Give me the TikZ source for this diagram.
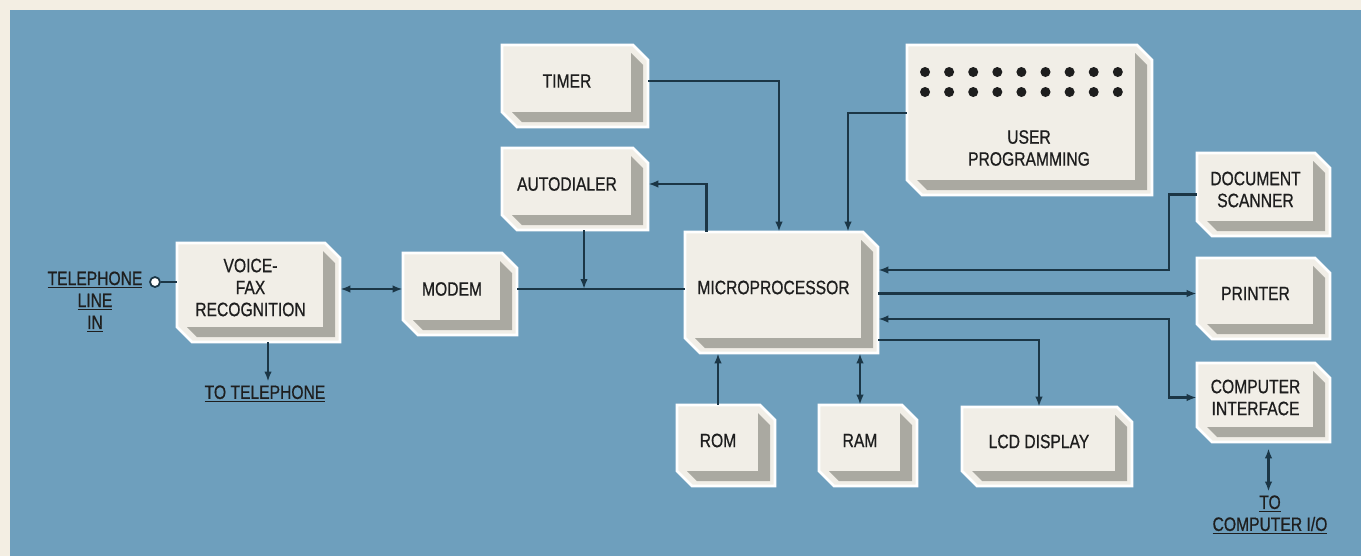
\documentclass[tikz,border=0pt]{standalone}
\usepackage{fontspec}
\usetikzlibrary{arrows.meta,fit}
\newfontfamily\blockfont{Liberation Sans}[FakeStretch=0.81,FakeBold=0.7]

\definecolor{pagecream}{HTML}{F3EEE3}
\definecolor{panelblue}{HTML}{6E9FBD}
\definecolor{facecream}{HTML}{F1EEE7}
\definecolor{sidegray}{HTML}{AAA9A1}
\definecolor{wire}{HTML}{1B3646}
\definecolor{ink}{HTML}{1E1E1E}

% 3-D block: name, x0, y0, x1, y1, text
\newcommand{\blockbox}[6]{%
  \filldraw[boxface] (#2,#3) -- ({#4-15},#3) -- (#4,{#3+15}) -- (#4,#5) -- ({#2+15},#5) -- (#2,{#5-15}) -- cycle;
  \fill[boxside] ({#4-17},{#3+8}) -- ({#4-5},{#3+20}) -- ({#4-5},{#5-5}) -- ({#2+20},{#5-5}) -- ({#2+10},{#5-15}) -- ({#4-17},{#5-15}) -- cycle;
  \node[fit={(#2,#3) (#4,#5)}, inner sep=0pt] (#1) {};
  \node[blocklabel] (#1-t) at ({(#2+#4)/2-8},{(#3+#5)/2-5}) {#6};
}

\begin{document}
\begin{tikzpicture}[x=0.02cm, y=-0.02cm,
    boxface/.style={fill=facecream, draw=white, line width=1.5pt},
    boxside/.style={fill=sidegray},
    blocklabel/.style={font=\blockfont\fontsize{11}{12.5}\selectfont, text=ink, align=center, inner sep=1pt},
    sidelabel/.style={font=\blockfont\fontsize{11}{12.5}\selectfont, text=ink, align=center, inner sep=2pt},
    wireline/.style={draw=wire, line width=1.25pt},
    >={Latex[length=2mm,width=1.5mm]}]
  \useasboundingbox (0,0) rectangle (1361,556);
  \fill[pagecream] (0,0) rectangle (1361,556);
  \fill[panelblue] (10,10) rectangle (1361,556);

  % blocks
  \blockbox{voice}{177}{243}{340}{342}{VOICE-\\FAX\\RECOGNITION}
  \blockbox{modem}{403}{253}{517}{335}{MODEM}
  \blockbox{timer}{502}{45}{648}{127}{TIMER}
  \blockbox{autodialer}{502}{148}{648}{230}{AUTODIALER}
  \blockbox{user}{907}{45}{1152}{195}{}
  \blockbox{micro}{685}{232}{878}{353}{MICROPROCESSOR}
  \blockbox{scanner}{1197}{153}{1330}{236}{DOCUMENT\\SCANNER}
  \blockbox{printer}{1197}{258}{1330}{339}{PRINTER}
  \blockbox{compif}{1197}{363}{1330}{442}{COMPUTER\\INTERFACE}
  \blockbox{rom}{677}{405}{775}{486}{ROM}
  \blockbox{ram}{819}{405}{917}{486}{RAM}
  \blockbox{lcd}{962}{407}{1132}{486}{LCD DISPLAY}

  % keypad dots
  \foreach \i in {0,...,8}
    \foreach \j in {72,92}
      \fill[ink] ({925+24.1*\i},\j) circle (0.1cm);
  \node[blocklabel] (user-lbl) at (1029,148) {USER\\PROGRAMMING};

  % outside labels
  \node[sidelabel] (telin) at (95,302) {\underline{TELEPHONE}\\\underline{LINE}\\\underline{IN}};
  \node[circle, draw=wire, fill=white, line width=1pt, minimum size=0.2cm, inner sep=0pt] (jack) at (155,282) {};
  \node[sidelabel] (totel) at (265,394) {\underline{TO TELEPHONE}};
  \node[sidelabel] (toio) at (1270,515) {\underline{TO}\\\underline{COMPUTER I/O}};

  % connectors
  \draw[wireline] (jack) -- (jack -| voice.west);
  \draw[wireline,->] ([xshift=0.19cm]voice.south) -- ([xshift=0.19cm]voice.south |- totel.north);
  \draw[wireline,<->] (modem-t -| voice.east) -- (modem-t -| modem.west);
  \draw[wireline] (modem-t -| modem.east) -- (modem-t -| micro.west);
  \draw[wireline,->] ([xshift=0.18cm]autodialer.south) -- ([xshift=0.18cm]autodialer.south |- modem-t);
  \draw[wireline,->] ([xshift=-1.5cm]micro.north) |- (autodialer-t -| autodialer.east);
  \draw[wireline,->] (timer-t -| timer.east) -| ([xshift=-0.05cm]micro.north);
  \draw[wireline,->] ([yshift=0.14cm]user.west) -| ([xshift=1.33cm]micro.north);
  \draw[wireline,->] (scanner.west) -- ([xshift=-0.56cm]scanner.west) |- ([yshift=0.45cm]micro.east);
  \draw[wireline,->] (printer-t -| micro.east) -- (printer-t -| printer.west);
  \draw[wireline,<->] ([yshift=-0.53cm]micro.east) -| ([xshift=-0.56cm]compif-t -| compif.west) -- (compif-t -| compif.west);
  \draw[wireline,->] ([yshift=-0.95cm]micro.east) -| (lcd-t |- lcd.north);
  \draw[wireline,->] ([xshift=-0.16cm]rom.north) -- ([xshift=-0.16cm]rom.north |- micro.south);
  \draw[wireline,<->] (ram-t |- micro.south) -- (ram-t |- ram.north);
  \draw[wireline,<->] ([xshift=0.1cm,yshift=-0.12cm]compif.south) -- ([xshift=0.1cm]compif.south |- toio.north);
\end{tikzpicture}
\end{document}
